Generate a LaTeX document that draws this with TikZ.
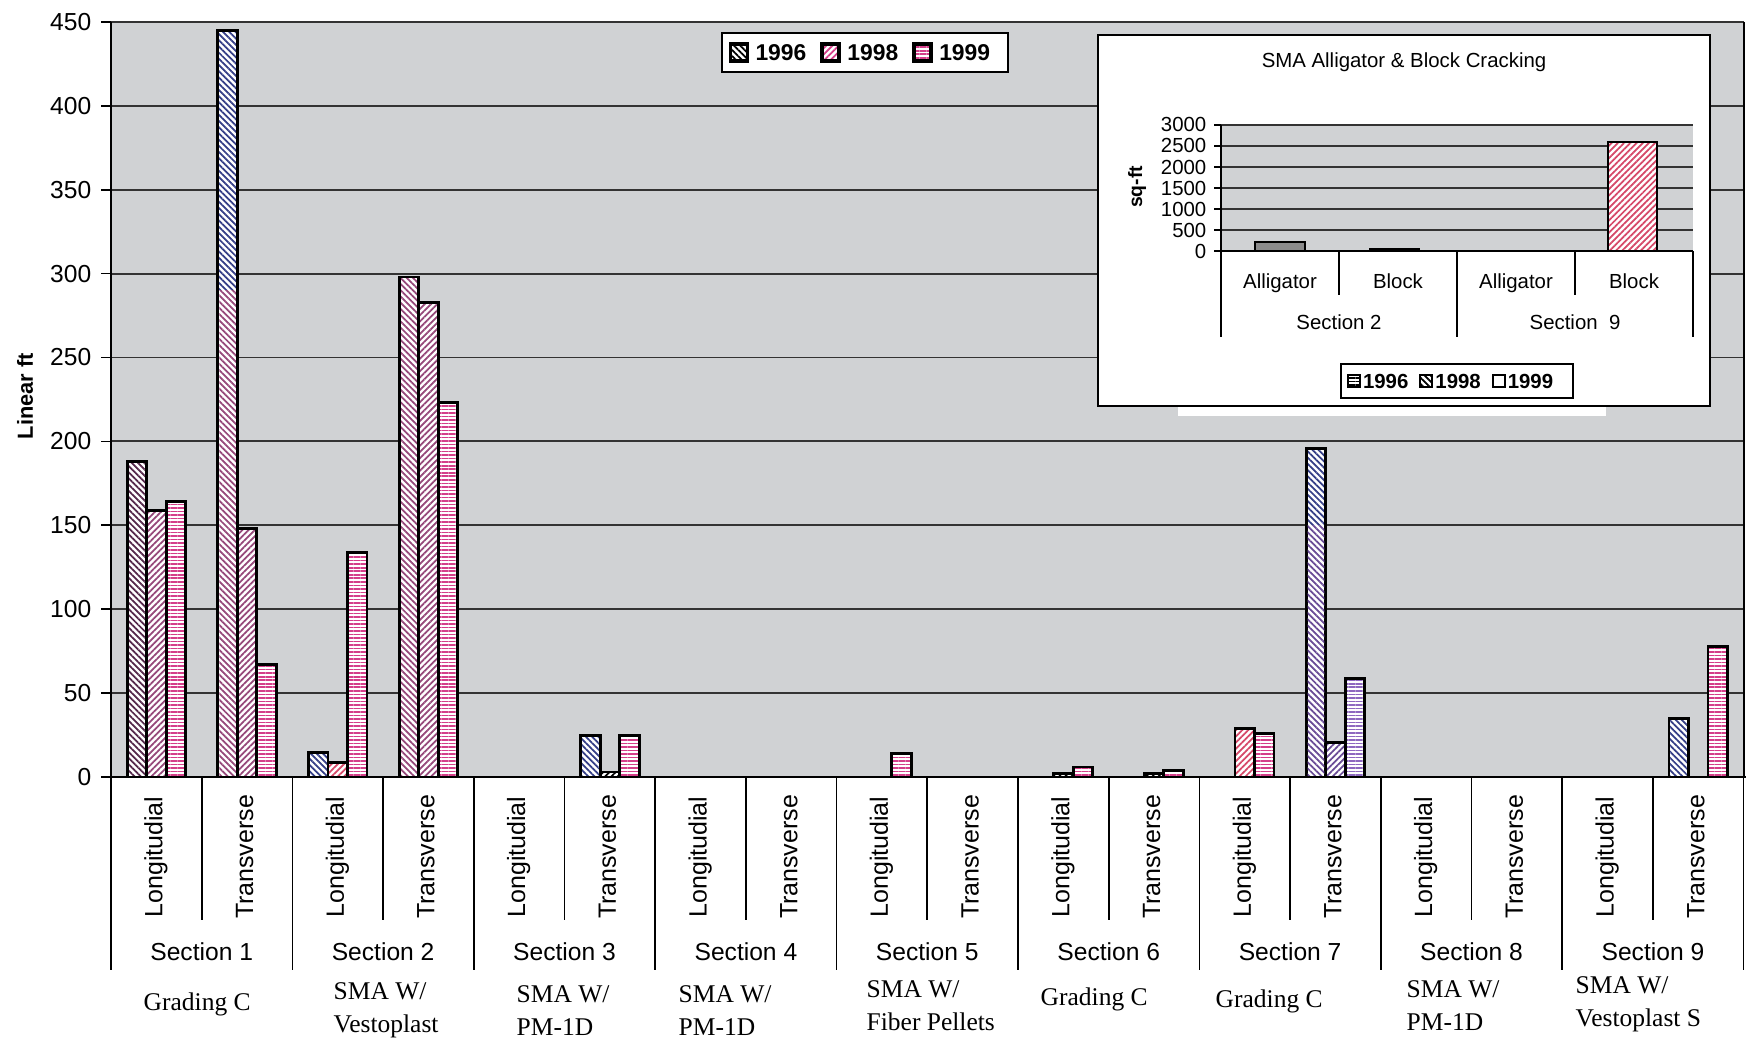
\documentclass[tikz,border=0pt]{standalone}
\usepackage{fontspec}
\setmainfont{Liberation Sans}
\newfontfamily\descfont{Liberation Serif}
\usetikzlibrary{positioning,patterns.meta}
\definecolor{plotgray}{RGB}{208,210,212}
\definecolor{hblue}{RGB}{52,62,135}
\definecolor{hmauve}{RGB}{150,72,122}
\definecolor{hdark}{RGB}{85,40,75}
\definecolor{hpink}{RGB}{212,62,138}
\definecolor{hred}{RGB}{214,72,104}
\definecolor{hlilac}{RGB}{142,104,192}
\definecolor{hviolet}{RGB}{105,75,150}
\tikzset{
	bar0/.style={pattern={Lines[angle=-45,distance=1.25pt,line width=.5pt]}},
	bar1/.style={pattern={Lines[angle=45,distance=1.25pt,line width=.5pt]}},
	bar2/.style={pattern={Lines[angle=0,distance=1pt,line width=.45pt]}},
	barbox/.style={draw=black,line width=.8pt,preaction={fill=white}},
	gridln/.style={black!80,line width=.55pt},
	ticklbl/.style={font=\fontsize{7}{8}\selectfont,inner sep=0pt},
	catlbl/.style={rotate=90,anchor=base,font=\fontsize{7.1}{8}\selectfont,inner sep=0pt},
	seclbl/.style={font=\fontsize{7}{8}\selectfont,inner sep=0pt},
	desclbl/.style={font=\descfont\fontsize{7.25}{9.4}\selectfont,align=left,anchor=west,inner sep=0pt},
	swatch/.style={minimum size=0.17cm,inner sep=0pt,outer sep=0pt,draw=black,line width=1.1pt,preaction={fill=white}},
	lgtxt/.style={font=\bfseries\fontsize{6.5}{8}\selectfont,inner sep=0pt,outer sep=0pt},
	inlbl/.style={anchor=base,font=\fontsize{5.8}{7}\selectfont,inner sep=0pt},
	minisw/.style={minimum size=0.12cm,inner sep=0pt,outer sep=0pt,draw=black,line width=.6pt,preaction={fill=white}},
	mlgtxt/.style={font=\bfseries\fontsize{5.8}{7}\selectfont,inner sep=0pt,outer sep=0pt}
}
\begin{document}
\begin{tikzpicture}[x=0.01cm,y=-0.01cm]
	\useasboundingbox (0,0) rectangle (1748,1046);
	%% main chart
	\fill[plotgray] (111,22) rectangle (1744,777);
	\foreach \g in {50,100,...,450}
		\draw[gridln] (111,{777-\g*1.678}) -- (1744,{777-\g*1.678});
	\foreach \g in {0,50,...,450}{
		\draw[line width=.5pt] (101,{777-\g*1.678}) -- (111,{777-\g*1.678});
		\node[ticklbl,anchor=east] (tk\g) at (92,{777-\g*1.678}) {\g};
	}
	\draw[line width=.6pt] (111,22) -- (111,777);
	\draw[line width=.6pt] (1744,22) -- (1744,777);
	\node[rotate=90,font=\bfseries\fontsize{6.2}{8}\selectfont] (ytitle) at (25,396) {Linear ft};
	% bars: category / year / value / colour
	\foreach \c/\k/\v/\col in {0/0/188/hdark,0/1/159/hmauve,0/2/164/hpink,
		1/0/445/hblue,1/1/148/hmauve,1/2/67/hpink,
		2/0/14.5/hblue,2/1/8.5/hred,2/2/134/hpink,
		3/0/298/hmauve,3/1/283/hmauve,3/2/223/hpink,
		5/0/24.5/hblue,5/1/3/black,5/2/24.5/hpink,
		8/2/14/hpink,
		10/1/2/black,10/2/6/hpink,
		11/1/2/black,11/2/4/hpink,
		12/1/29/hred,12/2/26/hpink,
		13/0/196/hblue,13/1/20.5/hviolet,13/2/58.6/hlilac,
		17/0/35/hblue,17/2/78/hpink}{
		\pgfmathsetmacro\xl{127.1+\c*90.7+\k*19.5}
		\pgfmathsetmacro\yt{777-\v*1.678}
		\path[barbox,bar\k,pattern color=\col] (\xl,777) rectangle (\xl+19.5,\yt);
	}
	% lower parts in another tint
	\path[bar0,pattern color=hmauve,preaction={fill=white}] (219.3,775.6) rectangle (235.8,{777-290*1.678});
	\path[bar0,pattern color=hviolet,preaction={fill=white}] (1307.6,775.6) rectangle (1324.3,{777-150*1.678});
	% category table
	\draw[line width=.8pt] (104,777) -- (1746,777);
	\foreach \i in {0,...,18}{
		\pgfmathsetmacro\xs{111+\i*90.7}
		\pgfmathsetmacro\yb{mod(\i,2)==0 ? 970 : 920}
		\draw[line width=.5pt] (\xs,777) -- (\xs,\yb);
	}
	\foreach \s in {1,...,9}{
		\node[catlbl] (lo\s) at ({117+(2*\s-1.5)*90.7},857) {Longitudial};
		\node[catlbl] (tr\s) at ({117+(2*\s-0.5)*90.7},857) {Transverse};
		\node[seclbl] (sec\s) at ({111+(2*\s-1)*90.7},952) {Section \s};
	}
	\node[desclbl] (ds1) at (143,1004) {Grading C};
	\node[desclbl] (ds2) at (333,1010) {SMA W/\\Vestoplast};
	\node[desclbl] (ds3) at (516,1011) {SMA W/\\PM-1D};
	\node[desclbl] (ds4) at (678,1011) {SMA W/\\PM-1D};
	\node[desclbl] (ds5) at (866,1006) {SMA W/\\Fiber Pellets};
	\node[desclbl] (ds6) at (1040,999) {Grading C};
	\node[desclbl] (ds7) at (1215,1001) {Grading C};
	\node[desclbl] (ds8) at (1406,1006) {SMA W/\\PM-1D};
	\node[desclbl] (ds9) at (1575,1004) {SMA W/\\Vestoplast S};
	% legend
	\draw[line width=.8pt,fill=white] (722,33) rectangle (1008,72);
	\node[swatch,bar0,pattern color=black] (sw1) at (739,52.5) {};
	\node[lgtxt,right=0.08cm of sw1] (lg1) {1996};
	\node[swatch,bar1,pattern color=hpink,right=0.16cm of lg1] (sw2) {};
	\node[lgtxt,right=0.08cm of sw2] (lg2) {1998};
	\node[swatch,bar2,pattern color=hpink,right=0.16cm of lg2] (sw3) {};
	\node[lgtxt,right=0.08cm of sw3] (lg3) {1999};
	%% inset chart
	\draw[line width=.7pt,fill=white] (1098,35) rectangle (1710,406);
	\fill[white] (1178,407) rectangle (1606,416);
	\node[font=\fontsize{5.8}{7}\selectfont] (intitle) at (1404,62) {SMA Alligator \& Block Cracking};
	\fill[plotgray] (1221,125) rectangle (1693,251);
	\foreach \g in {500,1000,...,3000}
		\draw[gridln] (1221,{251-\g*0.042}) -- (1693,{251-\g*0.042});
	\foreach \g in {0,500,...,3000}{
		\draw[line width=.4pt] (1214,{251-\g*0.042}) -- (1221,{251-\g*0.042});
		\node[inlbl,anchor=east] (itk\g) at (1207,{251-\g*0.042}) {\g};
	}
	\draw[line width=.5pt] (1221,125) -- (1221,251);
	\node[rotate=90,font=\bfseries\fontsize{5.5}{6}\selectfont] (iytitle) at (1137,187) {sq-ft};
	\draw[barbox,fill=black!45] (1255,251) rectangle (1305,242);
	\draw[barbox] (1370,251) rectangle (1419,249);
	\path[barbox,bar1,pattern color=hred] (1608,251) rectangle (1657,142);
	\draw[line width=.6pt] (1221,251) -- (1693,251);
	\foreach \i in {0,...,4}{
		\pgfmathsetmacro\xs{1221+\i*118}
		\pgfmathsetmacro\yb{mod(\i,2)==0 ? 337 : 295}
		\draw[line width=.5pt] (\xs,251) -- (\xs,\yb);
	}
	\node[inlbl] (ia1) at (1280,289) {Alligator};
	\node[inlbl] (ib1) at (1398,289) {Block};
	\node[inlbl] (ia2) at (1516,289) {Alligator};
	\node[inlbl] (ib2) at (1634,289) {Block};
	\node[inlbl] (isec2) at (1339,330) {Section 2};
	\node[inlbl] (isec9) at (1575,330) {Section\ \ 9};
	% inset legend
	\draw[line width=.7pt,fill=white] (1341,364) rectangle (1573,398);
	\node[minisw,bar2,pattern color=black] (isw1) at (1354,381) {};
	\node[mlgtxt,right=0.03cm of isw1] (ilg1) {1996};
	\node[minisw,bar0,pattern color=black,right=0.12cm of ilg1] (isw2) {};
	\node[mlgtxt,right=0.03cm of isw2] (ilg2) {1998};
	\node[minisw,right=0.12cm of ilg2] (isw3) {};
	\node[mlgtxt,right=0.03cm of isw3] (ilg3) {1999};
\end{tikzpicture}
\end{document}
